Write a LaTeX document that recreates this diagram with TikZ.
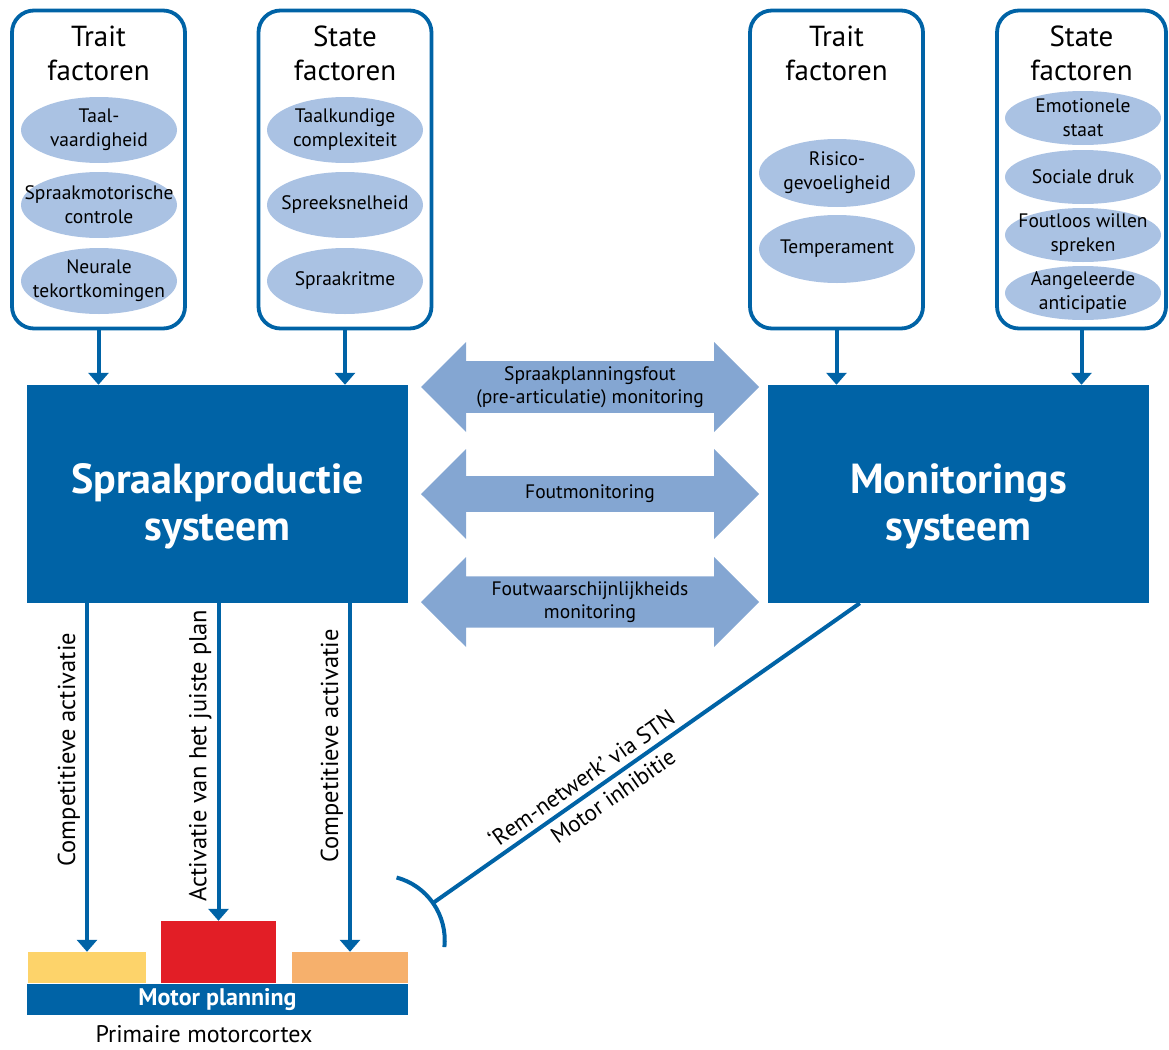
\documentclass[tikz,border=0pt]{standalone}
\usepackage{fontspec}
\setmainfont{PT Sans}
\usetikzlibrary{arrows.meta,shapes.geometric,shapes.arrows}
\definecolor{donkerblauw}{RGB}{0,99,166}
\definecolor{lichtblauw}{RGB}{170,194,227}
\definecolor{pijlblauw}{RGB}{132,166,210}
\definecolor{geel}{RGB}{253,211,106}
\definecolor{rood}{RGB}{226,30,38}
\definecolor{oranje}{RGB}{246,176,108}
\tikzset{
 factorkader/.style={draw=donkerblauw,line width=3.8pt,rounded corners=22pt,minimum width=173pt,minimum height=318pt},
 kop/.style={align=center,font=\fontsize{29}{34}\selectfont},
 factor/.style={ellipse,fill=lichtblauw,minimum width=156pt,minimum height=66pt,inner xsep=-40pt,inner ysep=-12pt,align=center,font=\fontsize{19.5}{24}\selectfont},
 systeem/.style={fill=donkerblauw,text=white,minimum width=381pt,minimum height=218pt,text height=101pt,align=center,font=\bfseries\fontsize{42}{47}\selectfont},
 monitor/.style={double arrow,fill=pijlblauw,double arrow head extend=17pt,double arrow tip angle=90,minimum height=338pt,minimum width=90pt,inner sep=2pt,align=center,font=\fontsize{19.5}{23}\selectfont},
 blok/.style={inner sep=0pt,minimum width=#1},
 pijl/.style={->,>={Triangle[width=20pt,length=12pt]},draw=donkerblauw,line width=4pt},
 lijnlabel/.style={rotate=90,anchor=south,inner sep=5pt,font=\fontsize{24.5}{28}\selectfont},
 remlijn/.style={draw=donkerblauw,line width=4pt},
 remlabel/.style={sloped,inner sep=6pt,font=\fontsize{23}{27}\selectfont}
}
\begin{document}
\begin{tikzpicture}[x=1pt,y=-1pt]
 \useasboundingbox (0,0) rectangle (1169,1049);
 \node[factorkader] (trait1) at (98.5,169.5) {}; %trait links
 \node[factorkader] (state1) at (345,169.5) {}; %state links
 \node[factorkader] (trait2) at (836.5,169.5) {}; %trait rechts
 \node[factorkader,minimum width=169pt] (state2) at (1081.5,169.5) {}; %state rechts
 \node[kop] (kop1) at (98.5,53) {Trait\\factoren};
 \node[kop] (kop2) at (345,53) {State\\factoren};
 \node[kop] (kop3) at (836.5,53) {Trait\\factoren};
 \node[kop] (kop4) at (1081.5,53) {State\\factoren};
 \node[factor] (taal) at (99,130) {Taal-\\vaardigheid};
 \node[factor] (motoriek) at (99,205) {Spraakmotorische\\controle};
 \node[factor] (neuraal) at (99,281) {Neurale\\tekortkomingen};
 \node[factor] (complex) at (345,130) {Taalkundige\\complexiteit};
 \node[factor] (snelheid) at (345,205) {Spreeksnelheid};
 \node[factor] (ritme) at (345,281) {Spraakritme};
 \node[factor,minimum height=68pt] (risico) at (837,173) {Risico-\\gevoeligheid};
 \node[factor,minimum height=68pt] (temp) at (837,249) {Temperament};
 \node[factor,minimum height=54pt] (emotie) at (1083,118) {Emotionele\\staat};
 \node[factor,minimum height=54pt] (druk) at (1083,177) {Sociale druk};
 \node[factor,minimum height=54pt] (foutloos) at (1083,235) {Foutloos willen\\spreken};
 \node[factor,minimum height=54pt] (anticipatie) at (1083,293) {Aangeleerde\\anticipatie};
 \node[systeem] (sp) at (217.5,494) {Spraakproductie\\systeem}; %spraakproductie
 \node[systeem] (ms) at (958.5,494) {Monitorings\\systeem}; %monitoring
 \draw[pijl] (trait1.south) -- (sp.north -| trait1.south);
 \draw[pijl] (state1.south) -- (sp.north -| state1.south);
 \draw[pijl] (trait2.south) -- (ms.north -| trait2.south);
 \draw[pijl] (state2.south) -- (ms.north -| state2.south);
 \node[monitor] (m1) at (590,387) {Spraakplanningsfout\\(pre-articulatie) monitoring};
 \node[monitor] (m2) at (590,494) {Foutmonitoring};
 \node[monitor] (m3) at (590,602) {Foutwaarschijnlijkheids\\monitoring};
 \node[blok=118pt,fill=geel,minimum height=31pt] (geel) at (87,967.5) {}; %concurrent links
 \node[blok=115pt,fill=rood,minimum height=62pt] (rood) at (218.5,952) {}; %juiste plan
 \node[blok=116pt,fill=oranje,minimum height=31pt] (oranje) at (350,967.5) {}; %concurrent rechts
 \node[blok=381pt,fill=donkerblauw,minimum height=31pt,text=white,font=\bfseries\fontsize{24}{26}\selectfont] (planning) at (217.5,999.5) {Motor planning};
 \node[font=\fontsize{24}{28}\selectfont] (cortex) at (204,1034) {Primaire motorcortex};
 \draw[pijl] (sp.south -| geel.north) -- node[lijnlabel,pos=0.42]{Competitieve activatie} (geel.north);
 \draw[pijl] (sp.south -| rood.north) -- node[lijnlabel,pos=0.48]{Activatie van het juiste plan} (rood.north);
 \draw[pijl] (sp.south -| oranje.north) -- node[lijnlabel,pos=0.41]{Competitieve activatie} (oranje.north);
 \coordinate (rem) at (433,903); %remming
 \draw[remlijn] (rem) -- node[remlabel,above,pos=0.37]{‘Rem-netwerk’ via STN} node[remlabel,below,pos=0.40]{Motor inhibitie} ([xshift=92pt]ms.south west);
 \draw[remlijn] (rem) arc[start angle=-35,end angle=-75,radius=65] (rem) arc[start angle=-35,end angle=6,radius=65];
\end{tikzpicture}
\end{document}
